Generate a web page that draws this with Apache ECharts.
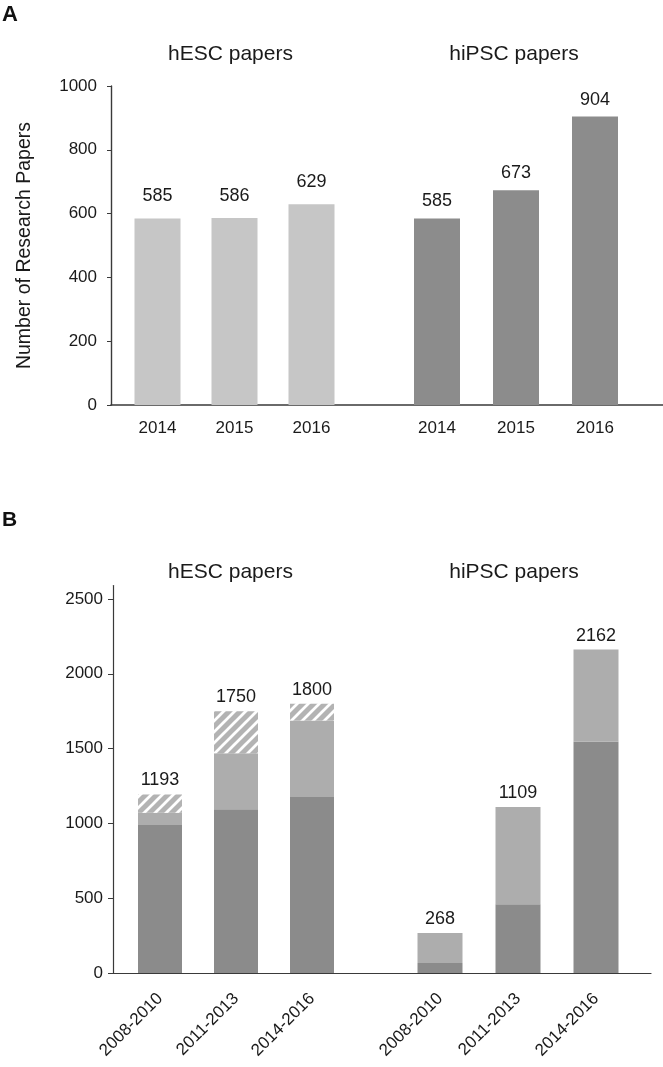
<!DOCTYPE html>
<html><head><meta charset="utf-8">
<script src="https://cdn.jsdelivr.net/npm/echarts@6/dist/echarts.min.js"></script>
<style>html,body{margin:0;padding:0;background:#fff}#c{width:663px;height:1067px}</style>
</head><body><div id="c"></div><script>
// ---- Panel A data ----
const yearsA = ['2014', '2015', '2016'];
const hescA = [585, 586, 629];
const hipscA = [585, 673, 904];
const ticksA = [0, 200, 400, 600, 800, 1000];
// ---- Panel B data ----
const periodsB = ['2008-2010', '2011-2013', '2014-2016'];
const hescDark = [989, 1095, 1176];
const hescLight = [82, 374, 511];
const hescHatched = [122, 281, 113];
const hescTotal = [1193, 1750, 1800];
const hipscDark = [67, 459, 1545];
const hipscLight = [201, 650, 617];
const hipscTotal = [268, 1109, 2162];
const ticksB = [0, 500, 1000, 1500, 2000, 2500];

const FONT = '"Liberation Sans", Arial, Helvetica, sans-serif';
const TXT = '#1a1a1a';

// hatch pattern
function makeHatch() {
  const s = 11;
  const c = document.createElement('canvas');
  c.width = s; c.height = s;
  const g = c.getContext('2d');
  g.fillStyle = '#b3b3b3';
  g.fillRect(0, 0, s, s);
  g.strokeStyle = '#ffffff';
  g.lineWidth = 2.8;
  g.beginPath();
  g.moveTo(-2, s + 2); g.lineTo(s + 2, -2);
  g.moveTo(-2, 2); g.lineTo(2, -2);
  g.moveTo(s - 2, s + 2); g.lineTo(s + 2, s - 2);
  g.stroke();
  return { image: c, repeat: 'repeat', imageWidth: s, imageHeight: s };
}
const hatch = makeHatch();

const A_TOP = 86, A_H = 319;
const B_TOP = 585.5, B_H = 387.5, B_MAX = 2590;
const plain = (v) => String(v);

const chart = echarts.init(document.getElementById('c'), null, { renderer: 'canvas' });

const hiddenX = (gi) => ({
  gridIndex: gi, type: 'value', min: 0, max: 1,
  axisLabel: { show: false }, axisTick: { show: false }, splitLine: { show: false },
  axisLine: { show: true, lineStyle: { color: '#3a3a3a', width: gi === 0 ? 1.6 : 1.2 } }
});
const catX = (gi, cats, extra) => Object.assign({
  gridIndex: gi, type: 'category', data: cats,
  axisLine: { show: false }, axisTick: { show: false }, splitLine: { show: false },
  axisLabel: { fontSize: 17, fontFamily: FONT, color: TXT, margin: 15, interval: 0 }
}, extra || {});
const hiddenY = (gi, max) => ({ gridIndex: gi, type: 'value', min: 0, max: max, show: false });

const labelStyle = (dist, fmt) => ({
  show: true, position: 'top', distance: dist, fontSize: 18, fontFamily: FONT, color: TXT,
  formatter: fmt
});
const rotLabel = { fontSize: 17, fontFamily: FONT, color: TXT, margin: 23, rotate: 45, interval: 0 };

const option = {
  animation: false,
  backgroundColor: '#ffffff',
  grid: [
    { left: 111, right: 0, top: A_TOP, height: A_H },
    { left: 119, width: 231, top: A_TOP, height: A_H },
    { left: 397.5, width: 237, top: A_TOP, height: A_H },
    { left: 113, width: 538, top: B_TOP, height: B_H },
    { left: 122, width: 228, top: B_TOP, height: B_H },
    { left: 401, width: 234, top: B_TOP, height: B_H }
  ],
  xAxis: [
    hiddenX(0),
    catX(1, yearsA),
    catX(2, yearsA),
    hiddenX(3),
    catX(4, periodsB, { axisLabel: rotLabel }),
    catX(5, periodsB, { axisLabel: rotLabel })
  ],
  yAxis: [
    {
      gridIndex: 0, type: 'value', min: ticksA[0], max: ticksA[ticksA.length - 1], interval: 200,
      axisLine: { show: true, lineStyle: { color: '#3a3a3a', width: 1.4 } },
      axisTick: { show: true, length: 4, lineStyle: { color: '#3a3a3a' } },
      axisLabel: { fontSize: 17, fontFamily: FONT, color: TXT, margin: 14, formatter: plain },
      splitLine: { show: false },
      name: 'Number of Research Papers', nameLocation: 'middle', nameGap: 76,
      nameTextStyle: { fontSize: 19.5, fontFamily: FONT, color: TXT }
    },
    hiddenY(1, 1000),
    hiddenY(2, 1000),
    {
      gridIndex: 3, type: 'value', min: 0, max: B_MAX,
      axisLine: { show: true, lineStyle: { color: '#3a3a3a', width: 1.2 } },
      axisTick: { show: true, length: 5, customValues: ticksB, lineStyle: { color: '#3a3a3a' } },
      axisLabel: { fontSize: 17, fontFamily: FONT, color: TXT, margin: 10, customValues: ticksB, formatter: plain },
      splitLine: { show: false }
    },
    hiddenY(4, B_MAX),
    hiddenY(5, B_MAX)
  ],
  series: [
    { type: 'bar', xAxisIndex: 1, yAxisIndex: 1, data: hescA, barWidth: 46,
      itemStyle: { color: '#c6c6c6' }, label: labelStyle(13) },
    { type: 'bar', xAxisIndex: 2, yAxisIndex: 2, data: hipscA, barWidth: 46,
      itemStyle: { color: '#8c8c8c' }, label: labelStyle(8) },

    { type: 'bar', xAxisIndex: 4, yAxisIndex: 4, stack: 'hesc', data: hescDark, barWidth: 44,
      itemStyle: { color: '#8b8b8b' } },
    { type: 'bar', xAxisIndex: 4, yAxisIndex: 4, stack: 'hesc', data: hescLight, barWidth: 44,
      itemStyle: { color: '#adadad' } },
    { type: 'bar', xAxisIndex: 4, yAxisIndex: 4, stack: 'hesc', data: hescHatched, barWidth: 44,
      itemStyle: { color: hatch },
      label: labelStyle(5, (p) => String(hescTotal[p.dataIndex])) },

    { type: 'bar', xAxisIndex: 5, yAxisIndex: 5, stack: 'hipsc', data: hipscDark, barWidth: 45,
      itemStyle: { color: '#8b8b8b' } },
    { type: 'bar', xAxisIndex: 5, yAxisIndex: 5, stack: 'hipsc', data: hipscLight, barWidth: 45,
      itemStyle: { color: '#adadad' },
      label: labelStyle(5, (p) => String(hipscTotal[p.dataIndex])) }
  ],
  graphic: [
    { type: 'text', x: 2, y: 15, style: { text: 'A', fontSize: 22, fontWeight: 'bold', fontFamily: FONT, fill: '#111', align: 'left', verticalAlign: 'middle' } },
    { type: 'text', x: 230.5, y: 54, style: { text: 'hESC papers', fontSize: 21, fontFamily: FONT, fill: TXT, align: 'center', verticalAlign: 'middle' } },
    { type: 'text', x: 514, y: 54, style: { text: 'hiPSC papers', fontSize: 21, fontFamily: FONT, fill: TXT, align: 'center', verticalAlign: 'middle' } },
    { type: 'text', x: 2, y: 520, style: { text: 'B', fontSize: 21, fontWeight: 'bold', fontFamily: FONT, fill: '#111', align: 'left', verticalAlign: 'middle' } },
    { type: 'text', x: 230.5, y: 572, style: { text: 'hESC papers', fontSize: 21, fontFamily: FONT, fill: TXT, align: 'center', verticalAlign: 'middle' } },
    { type: 'text', x: 514, y: 572, style: { text: 'hiPSC papers', fontSize: 21, fontFamily: FONT, fill: TXT, align: 'center', verticalAlign: 'middle' } }
  ]
};
chart.setOption(option);
</script></body></html>
